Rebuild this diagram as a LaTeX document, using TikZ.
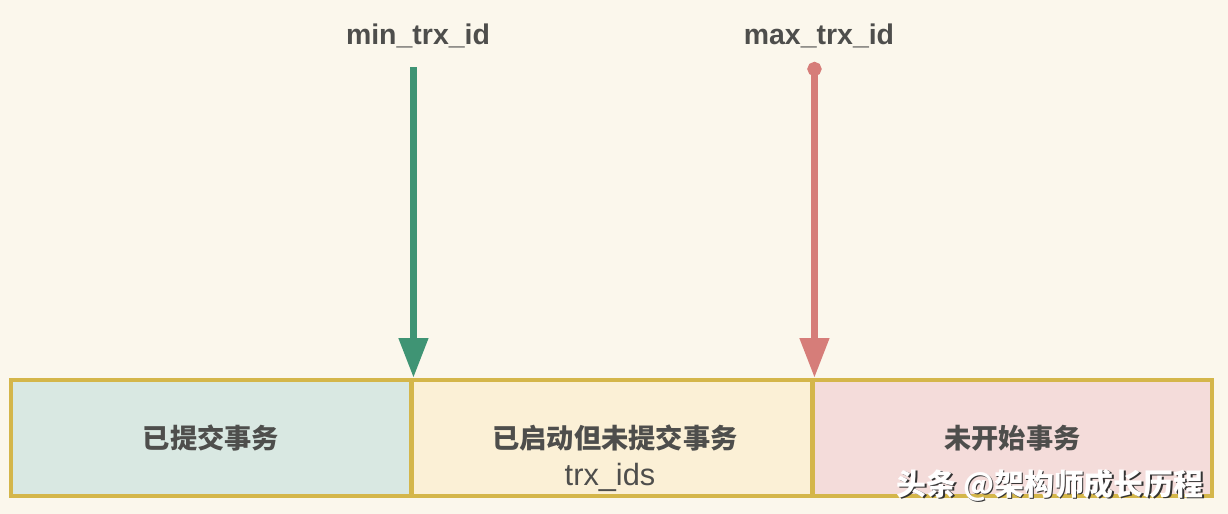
\documentclass[tikz,border=0pt]{standalone}
\usepackage{fontspec}
\setmainfont{Liberation Sans}
\newfontfamily\cjk{Noto Sans CJK SC}
\usetikzlibrary{arrows.meta}

\definecolor{pagebg}{HTML}{FBF7EC}
\definecolor{goldline}{HTML}{D4B64A}
\definecolor{doneFill}{HTML}{D9E8E2}
\definecolor{activeFill}{HTML}{FBF0D6}
\definecolor{futureFill}{HTML}{F4DCDA}
\definecolor{minGreen}{HTML}{3F9474}
\definecolor{maxRed}{HTML}{D67D79}
\definecolor{inkgray}{HTML}{4E4E4C}

\begin{document}
\begin{tikzpicture}[
    x=0.02cm, y=-0.02cm,
    txbox/.style={draw=goldline, line width=0.08cm, minimum width=8.02cm, minimum height=2.32cm,
      inner sep=0pt, text=inkgray, font=\cjk\bfseries\fontsize{15.5}{18}\selectfont, align=center},
    idlabel/.style={text=inkgray, font=\bfseries\fontsize{16.2}{19}\selectfont},
    bound/.style={line width=0.15cm, -{Triangle[length=0.8cm, width=0.56cm]}},
    font=\small
  ]
    \fill[pagebg] (0,0) rectangle (1228,514);
    \useasboundingbox (0,0) rectangle (1228,514);

    % the three ranges of transaction ids
    \node[txbox, fill=doneFill] (committed) at (211,438) {已提交事务};
    \node[txbox, fill=activeFill] (active) at (612,438) {};
    \node[txbox, fill=futureFill, minimum width=8cm] (future) at (1012.5,438) {未开始事务};
    \node[text=inkgray, font=\cjk\bfseries\fontsize{15.5}{18}\selectfont] (activeTitle) at (615,438) {已启动但未提交事务};
    \node[text=inkgray, font=\fontsize{17.5}{20}\selectfont] (activeIds) at (610,477) {trx\_ids};

    % the two bounds
    \node[idlabel] (minLabel) at (418,36) {min\_trx\_id};
    \node[idlabel] (maxLabel) at (819,36) {max\_trx\_id};
    \coordinate (minTop) at (committed.north east |- 0,67);
    \coordinate (maxTop) at (active.north east |- 0,62);
    \draw[bound, minGreen] (minTop) -- (committed.north east);
    \draw[bound, maxRed, {Circle[length=0.28cm]}-{Triangle[length=0.8cm, width=0.56cm]}] (maxTop) -- (active.north east);

    % watermark
    \node[text=black!80, font=\cjk\bfseries\fontsize{17}{20}\selectfont] at (1051.5,486.5) {头条 @架构师成长历程};
    \node[text=white, font=\cjk\bfseries\fontsize{17}{20}\selectfont] (mark) at (1050,485) {头条 @架构师成长历程};
  \end{tikzpicture}
\end{document}
